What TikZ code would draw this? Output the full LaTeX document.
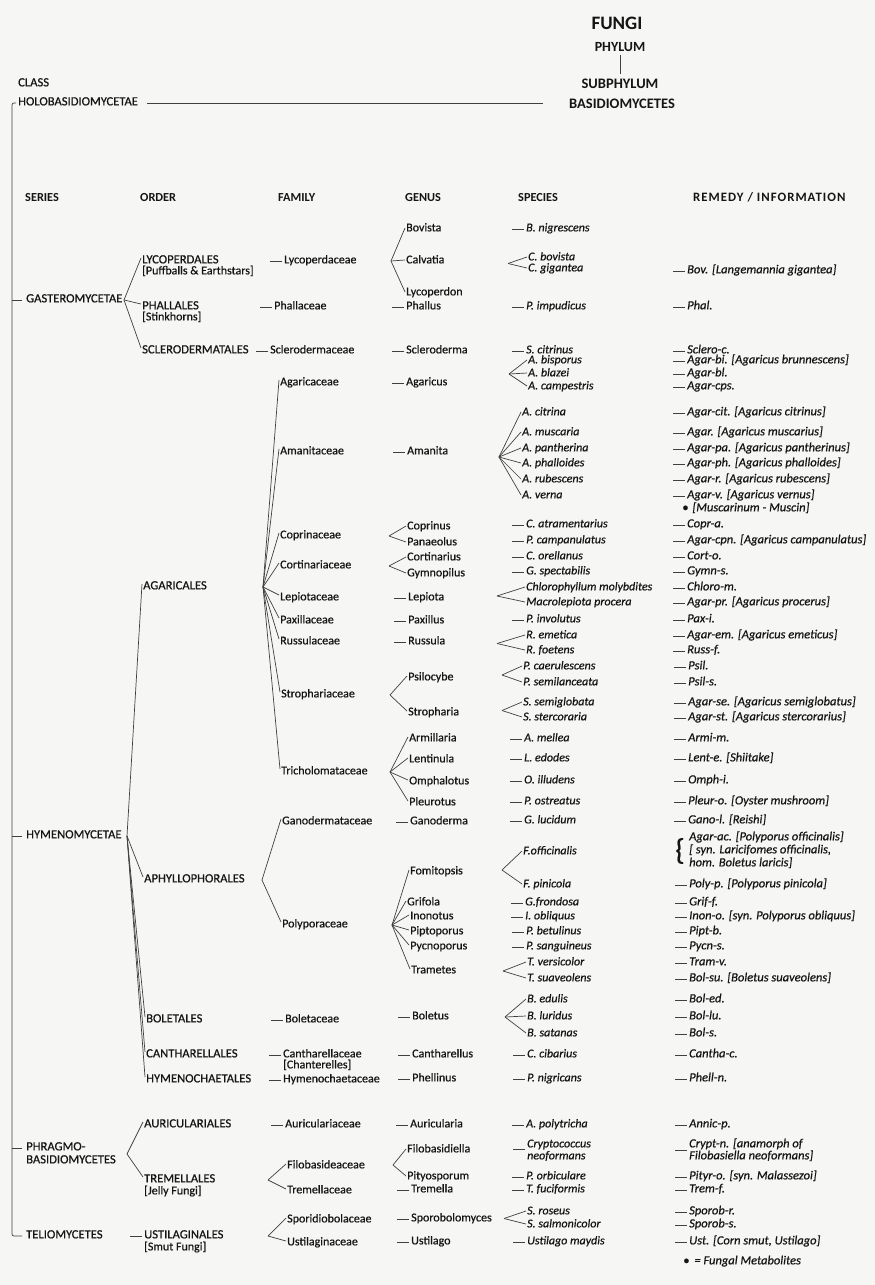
\documentclass[tikz,border=0pt]{standalone}
\usepackage{fontspec}
\setmainfont{Carlito}[UprightFeatures={FakeBold=0.6},ItalicFeatures={FakeBold=0.6}]
\definecolor{ink}{HTML}{151515}
\definecolor{lin}{HTML}{404040}
\definecolor{paper}{HTML}{F6F6F4}
\newcommand{\mydash}[2][0pt]{\draw[ln] ([xshift=-13pt,yshift=#1]#2.mid west) -- ([xshift=-1.5pt,yshift=#1]#2.mid west);}
\newcommand{\myfork}[3]{\foreach \nm in {#2}{\draw[ln] (#1) -- ([yshift=#3]\nm.mid west);}}
\begin{document}
\begin{tikzpicture}[x=1pt,y=-1pt,
 ln/.style={draw=lin,line width=0.7pt},
 every node/.style={inner xsep=1pt,inner ysep=0pt,anchor=mid west,text=ink,font=\fontsize{12}{13}\selectfont},
 cp/.style={font=\fontsize{12.6}{13}\selectfont},
 sp/.style={font=\fontsize{12}{13}\selectfont\itshape},
 rm/.style={font=\fontsize{12.5}{13}\selectfont\itshape},
 hd/.style={font=\fontsize{12.3}{13}\selectfont\bfseries},
 tp/.style={anchor=center,font=\fontsize{14.5}{15}\selectfont\bfseries},
 sm/.style={font=\fontsize{12.6}{13}\selectfont}]
\fill[paper] (0,0) rectangle (875,1285);
\useasboundingbox (0,0) rectangle (875,1285);
% ---------- top ----------
\node[tp,font=\fontsize{19}{20}\selectfont\bfseries] (fungi) at (617,23) {FUNGI};
\node[tp,font=\fontsize{14}{15}\selectfont\bfseries] (phylum) at (620,47) {PHYLUM};
\node[tp] (subph) at (620,84) {SUBPHYLUM};
\node[tp] (basid) at (622,104) {BASIDIOMYCETES};
\draw[ln] ([yshift=-3pt]phylum.south) -- ([yshift=5pt]subph.north);
\node[sm] (class) at (17,84) {CLASS};
\node[sm] (holo) at (17,103) {HOLOBASIDIOMYCETAE};
\draw[ln] ([xshift=8pt]holo.mid east) -- ([xshift=-25pt]holo.mid east -| basid.west);
% ---------- header ----------
\node[hd] (hSer) at (24,199) {SERIES};
\node[hd] (hOrd) at (139,199) {ORDER};
\node[hd] (hFam) at (277,199) {FAMILY};
\node[hd] (hGen) at (404,199) {GENUS};
\node[hd] (hSpe) at (517,199) {SPECIES};
\node[hd,font=\fontsize{12.8}{13}\selectfont\bfseries] (hRem) at (692,199) {\addfontfeature{LetterSpace=8}REMEDY / INFORMATION};
% ---------- series ----------
\node[cp] (gast) at (25,300) {GASTEROMYCETAE};
\node[cp] (hymen) at (25,836) {HYMENOMYCETAE};
\node[cp] (phragA) at (25,1148) {PHRAGMO-};
\node[cp] (phragB) at (25,1161) {BASIDIOMYCETES};
\node[cp] (teli) at (25,1236) {TELIOMYCETES};
\coordinate (vt) at (12,103);
\draw[ln,rounded corners=2pt] ([xshift=-1pt]holo.mid west) -- (vt) -- (vt |- teli.mid west) -- ([xshift=-3pt]teli.mid west);
\foreach \nm in {gast,hymen,phragA} \draw[ln] (vt |- \nm.mid west) -- ([xshift=-3pt]\nm.mid west);
% ---------- orders ----------
\node[cp] (lyco) at (141,261) {LYCOPERDALES};
\node (lycoN) at (141,272) {[Puffballs \& Earthstars]};
\node[cp] (phal) at (141,307) {PHALLALES};
\node (phalN) at (141,318) {[Stinkhorns]};
\node[cp] (scle) at (141,351) {SCLERODERMATALES};
\node[cp] (agar) at (142,587) {AGARICALES};
\node[cp] (aphy) at (143,880) {APHYLLOPHORALES};
\node[cp] (bole) at (145,1020) {BOLETALES};
\node[cp] (cant) at (145,1055) {CANTHARELLALES};
\node[cp] (hymo) at (145,1080) {HYMENOCHAETALES};
\node[cp] (auri) at (143,1125) {AURICULARIALES};
\node[cp] (trem) at (143,1180) {TREMELLALES};
\node (tremN) at (143,1192) {[Jelly Fungi]};
\node[cp] (usti) at (143,1236) {USTILAGINALES};
\node (ustiN) at (143,1248) {[Smut Fungi]};
\coordinate (gf) at (124,300); \myfork{gf}{lyco,phal,scle}{3pt}
\coordinate (hf) at (127,836); \myfork{hf}{agar,aphy,bole,cant,hymo}{3pt}
\coordinate (prf) at (127,1154); \myfork{prf}{auri,trem}{3pt}
\mydash{usti}
% ---------- families ----------
\node (lycoF) at (283,261) {Lycoperdaceae}; \mydash{lycoF}
\node (phalF) at (273,307) {Phallaceae}; \mydash{phalF}
\node (scleF) at (269,351) {Sclerodermaceae}; \mydash{scleF}
\node (agarF) at (279,383) {Agaricaceae};
\node (amanF) at (279,452) {Amanitaceae};
\node (copF) at (279,536) {Coprinaceae};
\node (corF) at (279,566) {Cortinariaceae};
\node (lepF) at (279,598) {Lepiotaceae};
\node (paxF) at (279,621) {Paxillaceae};
\node (rusF) at (279,642) {Russulaceae};
\node (stroF) at (280,695) {Strophariaceae};
\node (triF) at (280,772) {Tricholomataceae};
\coordinate (af) at (263,587); \myfork{af}{agarF,amanF,copF,corF,lepF,paxF,rusF,stroF,triF}{3pt}
\node (ganoF) at (281,822) {Ganodermataceae};
\node (polyF) at (281,925) {Polyporaceae};
\coordinate (pf) at (262,880); \myfork{pf}{ganoF,polyF}{3pt}
\node (boleF) at (284,1020) {Boletaceae}; \mydash{boleF}
\node (cantF) at (282,1055) {Cantharellaceae}; \mydash{cantF}
\node (cantN) at (282,1066) {[Chanterelles]};
\node (hymoF) at (282,1080) {Hymenochaetaceae}; \mydash{hymoF}
\node (auriF) at (284,1125) {Auriculariaceae}; \mydash{auriF}
\node (filoF) at (286,1166) {Filobasideaceae};
\node (tremF) at (286,1191) {Tremellaceae};
\coordinate (tf) at (268,1180); \myfork{tf}{filoF,tremF}{2pt}
\node (sporF) at (286,1220) {Sporidiobolaceae};
\node (ustF) at (286,1243) {Ustilaginaceae};
\coordinate (uf) at (268,1236); \myfork{uf}{sporF,ustF}{2pt}
% ---------- genera ----------
\node (bovG) at (405,229) {Bovista};
\node (calG) at (405,261) {Calvatia};
\node (lycoG) at (405,293) {Lycoperdon};
\coordinate (lf) at (391,261); \myfork{lf}{bovG,calG,lycoG}{1pt}
\node (phalG) at (405,307) {Phallus}; \mydash{phalG}
\node (scleG) at (405,351) {Scleroderma}; \mydash{scleG}
\node (agarG) at (405,383) {Agaricus}; \mydash{agarG}
\node (amanG) at (406,452) {Amanita}; \mydash{amanG}
\node (copG) at (406,527) {Coprinus};
\node (panG) at (406,543) {Panaeolus};
\coordinate (cpf) at (389,536); \myfork{cpf}{copG,panG}{1pt}
\node (corG) at (406,558) {Cortinarius};
\node (gymG) at (406,574) {Gymnopilus};
\coordinate (crf) at (389,566); \myfork{crf}{corG,gymG}{1pt}
\node (lepG) at (407,598) {Lepiota}; \mydash{lepG}
\node (paxG) at (407,621) {Paxillus}; \mydash{paxG}
\node (rusG) at (407,642) {Russula}; \mydash{rusG}
\node (psiG) at (407,678) {Psilocybe};
\node (stroG) at (407,713) {Stropharia};
\coordinate (stf) at (390,695); \myfork{stf}{psiG,stroG}{2pt}
\node (armG) at (408,739) {Armillaria};
\node (lentG) at (408,760) {Lentinula};
\node (omphG) at (408,782) {Omphalotus};
\node (pleuG) at (408,803) {Pleurotus};
\coordinate (trf) at (390,772); \myfork{trf}{armG,lentG,omphG,pleuG}{2pt}
\node (ganoG) at (409,822) {Ganoderma}; \mydash{ganoG}
\node (fomG) at (409,872) {Fomitopsis};
\node (grifG) at (406,903) {Grifola};
\node (inoG) at (409,917) {Inonotus};
\node (pipG) at (409,932) {Piptoporus};
\node (pycG) at (409,947) {Pycnoporus};
\node (tramG) at (410,971) {Trametes};
\coordinate (plf) at (392,925); \myfork{plf}{fomG,grifG,inoG,pipG,pycG,tramG}{2pt}
\node (bolG) at (411,1017) {Boletus}; \mydash{bolG}
\node (canG) at (411,1055) {Cantharellus}; \mydash{canG}
\node (pheG) at (411,1079) {Phellinus}; \mydash{pheG}
\node (auriG) at (409,1125) {Auricularia}; \mydash{auriG}
\node (filoG) at (406,1150) {Filobasidiella};
\node (pityG) at (406,1177) {Pityosporum};
\coordinate (fbf) at (393,1165); \myfork{fbf}{filoG,pityG}{1pt}
\node (tremG) at (410,1190) {Tremella}; \mydash{tremG}
\node (sporG) at (410,1219) {Sporobolomyces}; \mydash{sporG}
\node (ustG) at (410,1242) {Ustilago}; \mydash{ustG}
% ---------- species ----------
\node[sp] (bnig) at (525,229) {B. nigrescens}; \mydash{bnig}
\node[sp] (cbov) at (527,258) {C. bovista};
\node[sp] (cgig) at (527,269) {C. gigantea};
\coordinate (cvf) at (508,263.5); \myfork{cvf}{cbov,cgig}{1pt}
\node[sp] (pimp) at (525,307) {P. impudicus}; \mydash{pimp}
\node[sp] (scit) at (525,351) {S. citrinus}; \mydash{scit}
\node[sp] (abis) at (527,361) {A. bisporus};
\node[sp] (abla) at (527,374) {A. blazei};
\node[sp] (acam) at (527,387) {A. campestris};
\coordinate (agf) at (509,374); \myfork{agf}{abis,abla,acam}{1pt}
\node[sp] (acit) at (521,413) {A. citrina};
\node[sp] (amus) at (521,433) {A. muscaria};
\node[sp] (apan) at (521,449) {A. pantherina};
\node[sp] (apha) at (521,464) {A. phalloides};
\node[sp] (arub) at (521,480) {A. rubescens};
\node[sp] (aver) at (521,496) {A. verna};
\coordinate (amf) at (499,457); \myfork{amf}{acit,amus,apan,apha,arub,aver}{1pt}
\node[sp] (catr) at (525,525) {C. atramentarius}; \mydash{catr}
\node[sp] (pcam) at (525,541) {P. campanulatus}; \mydash{pcam}
\node[sp] (core) at (525,557) {C. orellanus}; \mydash{core}
\node[sp] (gspe) at (525,572) {G. spectabilis}; \mydash{gspe}
\node[sp] (chlo) at (525,588) {Chlorophyllum molybdites};
\node[sp] (macr) at (525,603) {Macrolepiota procera};
\coordinate (lpf) at (497,596); \myfork{lpf}{chlo,macr}{1pt}
\node[sp] (pinv) at (525,620) {P. involutus}; \mydash{pinv}
\node[sp] (reme) at (525,636) {R. emetica};
\node[sp] (rfoe) at (525,651) {R. foetens};
\coordinate (rsf) at (497,643.5); \myfork{rsf}{reme,rfoe}{1pt}
\node[sp] (pcae) at (522,667) {P. caerulescens};
\node[sp] (psem) at (522,683) {P. semilanceata};
\coordinate (psf) at (502,675); \myfork{psf}{pcae,psem}{1pt}
\node[sp] (ssem) at (522,703) {S. semiglobata};
\node[sp] (sste) at (522,718) {S. stercoraria};
\coordinate (srf) at (502,710.5); \myfork{srf}{ssem,sste}{1pt}
\node[sp] (amel) at (523,739) {A. mellea}; \mydash{amel}
\node[sp] (ledo) at (523,759) {L. edodes}; \mydash{ledo}
\node[sp] (oill) at (523,781) {O. illudens}; \mydash{oill}
\node[sp] (post) at (523,802) {P. ostreatus}; \mydash{post}
\node[sp] (gluc) at (523,821) {G. lucidum}; \mydash{gluc}
\node[sp] (foff) at (522,852) {F.officinalis};
\node[sp] (fpin) at (522,885) {F. pinicola};
\coordinate (fof) at (502,870); \myfork{fof}{foff,fpin}{1pt}
\node[sp] (gfro) at (524,903) {G.frondosa}; \mydash{gfro}
\node[sp] (iobl) at (524,917) {I. obliquus}; \mydash{iobl}
\node[sp] (pbet) at (525,932) {P. betulinus}; \mydash{pbet}
\node[sp] (psan) at (525,947) {P. sanguineus}; \mydash{psan}
\node[sp] (tver) at (526,963) {T. versicolor};
\node[sp] (tsua) at (526,979) {T. suaveolens};
\coordinate (tmf) at (503,971); \myfork{tmf}{tver,tsua}{1pt}
\node[sp] (bedu) at (526,1000) {B. edulis};
\node[sp] (blur) at (526,1017) {B. luridus};
\node[sp] (bsat) at (526,1034) {B. satanas};
\coordinate (btf) at (505,1017); \myfork{btf}{bedu,blur,bsat}{1pt}
\node[sp] (ccib) at (526,1055) {C. cibarius}; \mydash{ccib}
\node[sp] (pnig) at (526,1079) {P. nigricans}; \mydash{pnig}
\node[sp] (apol) at (525,1125) {A. polytricha}; \mydash{apol}
\node[sp] (cryp) at (526,1145) {Cryptococcus};
\node[sp] (crypB) at (526,1157) {neoformans};
\mydash[-4pt]{cryp}
\node[sp] (porb) at (525,1177) {P. orbiculare}; \mydash{porb}
\node[sp] (tfuc) at (525,1190) {T. fuciformis}; \mydash{tfuc}
\node[sp] (sros) at (526,1212) {S. roseus};
\node[sp] (ssal) at (526,1225) {S. salmonicolor};
\coordinate (spf) at (504,1218.5); \myfork{spf}{sros,ssal}{1pt}
\node[sp] (umay) at (526,1242) {Ustilago maydis}; \mydash{umay}
% ---------- remedies ----------
\node[rm] (rBov) at (686,271) {Bov. [Langemannia gigantea]}; \mydash{rBov}
\node[rm] (rPhal) at (686,307) {Phal.}; \mydash{rPhal}
\node[rm] (rScl) at (686,351) {Sclero-c.}; \mydash{rScl}
\node[rm] (rAbi) at (686,361) {Agar-bi. [Agaricus brunnescens]}; \mydash{rAbi}
\node[rm] (rAbl) at (686,374) {Agar-bl.}; \mydash{rAbl}
\node[rm] (rAcp) at (686,387) {Agar-cps.}; \mydash{rAcp}
\node[rm] (rAci) at (686,413) {Agar-cit. [Agaricus citrinus]}; \mydash{rAci}
\node[rm] (rAmu) at (686,433) {Agar. [Agaricus muscarius]}; \mydash{rAmu}
\node[rm] (rApa) at (686,449) {Agar-pa. [Agaricus pantherinus]}; \mydash{rApa}
\node[rm] (rAph) at (686,464) {Agar-ph. [Agaricus phalloides]}; \mydash{rAph}
\node[rm] (rAr) at (686,480) {Agar-r. [Agaricus rubescens]}; \mydash{rAr}
\node[rm] (rAv) at (686,496) {Agar-v. [Agaricus vernus]}; \mydash{rAv}
\node[rm] (rMus) at (681,509) {\textbullet\hspace{4pt}[Muscarinum - Muscin]};
\node[rm] (rCop) at (686,525) {Copr-a.}; \mydash{rCop}
\node[rm] (rAcn) at (686,541) {Agar-cpn. [Agaricus campanulatus]}; \mydash{rAcn}
\node[rm] (rCor) at (686,557) {Cort-o.}; \mydash{rCor}
\node[rm] (rGym) at (686,572) {Gymn-s.}; \mydash{rGym}
\node[rm] (rChl) at (686,588) {Chloro-m.}; \mydash{rChl}
\node[rm] (rApr) at (686,603) {Agar-pr. [Agaricus procerus]}; \mydash{rApr}
\node[rm] (rPax) at (686,620) {Pax-i.}; \mydash{rPax}
\node[rm] (rAem) at (686,636) {Agar-em. [Agaricus emeticus]}; \mydash{rAem}
\node[rm] (rRus) at (686,651) {Russ-f.}; \mydash{rRus}
\node[rm] (rPsi) at (687,667) {Psil.}; \mydash{rPsi}
\node[rm] (rPss) at (687,683) {Psil-s.}; \mydash{rPss}
\node[rm] (rAse) at (687,703) {Agar-se. [Agaricus semiglobatus]}; \mydash{rAse}
\node[rm] (rAst) at (687,718) {Agar-st. [Agaricus stercorarius]}; \mydash{rAst}
\node[rm] (rArm) at (687,739) {Armi-m.}; \mydash{rArm}
\node[rm] (rLen) at (687,759) {Lent-e. [Shiitake]}; \mydash{rLen}
\node[rm] (rOmp) at (687,781) {Omph-i.}; \mydash{rOmp}
\node[rm] (rPle) at (687,802) {Pleur-o. [Oyster mushroom]}; \mydash{rPle}
\node[rm] (rGan) at (687,821) {Gano-l. [Reishi]}; \mydash{rGan}
\node[anchor=center,font=\fontsize{30}{30}\selectfont] (brace) at (680,851) {\{};
\node[rm] (rAac) at (688,838) {Agar-ac. [Polyporus officinalis]};
\node[rm] (rAac2) at (688,851) {[ syn. Laricifomes officinalis,};
\node[rm] (rAac3) at (688,864) {hom. Boletus laricis]};
\node[rm] (rPol) at (688,885) {Poly-p. [Polyporus pinicola]}; \mydash{rPol}
\node[rm] (rGri) at (688,903) {Grif-f.}; \mydash{rGri}
\node[rm] (rIno) at (688,917) {Inon-o. [syn. Polyporus obliquus]}; \mydash{rIno}
\node[rm] (rPip) at (688,932) {Pipt-b.}; \mydash{rPip}
\node[rm] (rPyc) at (688,947) {Pycn-s.}; \mydash{rPyc}
\node[rm] (rTra) at (688,963) {Tram-v.}; \mydash{rTra}
\node[rm] (rBsu) at (688,979) {Bol-su. [Boletus suaveolens]}; \mydash{rBsu}
\node[rm] (rBed) at (688,1000) {Bol-ed.}; \mydash{rBed}
\node[rm] (rBlu) at (688,1017) {Bol-lu.}; \mydash{rBlu}
\node[rm] (rBs) at (688,1034) {Bol-s.}; \mydash{rBs}
\node[rm] (rCan) at (688,1055) {Cantha-c.}; \mydash{rCan}
\node[rm] (rPhe) at (688,1079) {Phell-n.}; \mydash{rPhe}
\node[rm] (rAnn) at (688,1125) {Annic-p.}; \mydash{rAnn}
\node[rm] (rCry) at (688,1145) {Crypt-n. [anamorph of};
\node[rm] (rCry2) at (688,1157) {Filobasiella neoformans]};
\mydash[-5pt]{rCry}
\node[rm] (rPit) at (688,1177) {Pityr-o. [syn. Malassezoi]}; \mydash{rPit}
\node[rm] (rTre) at (688,1190) {Trem-f.}; \mydash{rTre}
\node[rm] (rSpr) at (688,1212) {Sporob-r.}; \mydash{rSpr}
\node[rm] (rSps) at (688,1225) {Sporob-s.}; \mydash{rSps}
\node[rm] (rUst) at (688,1242) {Ust. [Corn smut, Ustilago]}; \mydash{rUst}
\node[rm] (legend) at (682,1262) {\textbullet\hspace{5pt}= Fungal Metabolites};
\end{tikzpicture}
\end{document}
